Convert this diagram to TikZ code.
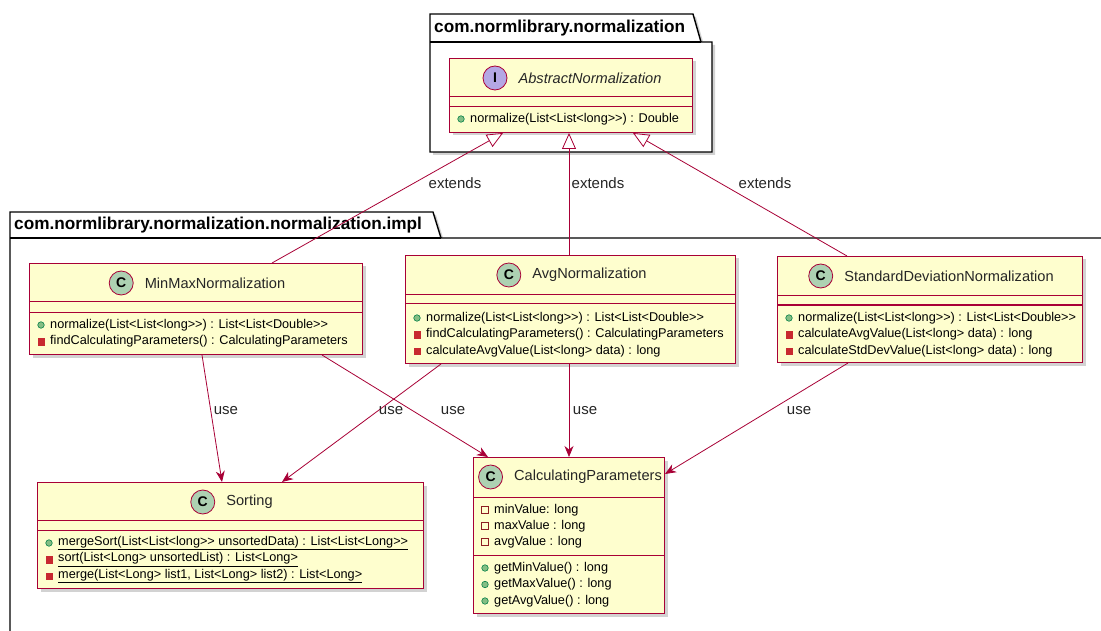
\documentclass[tikz,border=0pt]{standalone}
\usepackage{fontspec}
\newfontfamily\umlfont{Liberation Sans}
\definecolor{umlRed}{HTML}{A80036}
\definecolor{umlCream}{HTML}{FEFECE}
\definecolor{umlMint}{HTML}{ADD1B2}
\definecolor{umlLilac}{HTML}{B4A7E5}
\definecolor{pubFill}{HTML}{84BE84}
\definecolor{pubLine}{HTML}{038048}
\definecolor{privFill}{HTML}{C82930}
\usetikzlibrary{arrows.meta, positioning, shadows}

\tikzset{
  pkgbox/.style={draw=black, fill=white, line width=1.4pt, line join=miter,
    drop shadow={shadow xshift=3pt, shadow yshift=-3pt, opacity=0.35}},
  pkgtitle/.style={font=\umlfont\fontsize{17.2}{20}\selectfont\bfseries, anchor=west, inner sep=0pt},
  classbox/.style={draw=umlRed, fill=umlCream, line width=1pt, anchor=north west, inner sep=0pt,
    drop shadow={shadow xshift=3pt, shadow yshift=-3pt, opacity=0.35}},
  sepline/.style={draw=umlRed, line width=1pt},
  clsname/.style={font=\umlfont\fontsize{14.6}{17}\selectfont, text=black!85, inner sep=0pt},
  clsicon/.style={circle, draw=umlRed, line width=0.8pt, minimum size=24pt, inner sep=0pt,
    font=\umlfont\fontsize{14}{14}\selectfont\bfseries},
  member/.style={font=\umlfont\fontsize{12.7}{15}\selectfont, anchor=west, inner sep=0pt},
  pubm/.style={circle, fill=pubFill, draw=pubLine, line width=0.6pt, minimum size=6.5pt, inner sep=0pt},
  privm/.style={rectangle, fill=privFill, draw=privFill, minimum size=6.5pt, inner sep=0pt},
  privf/.style={rectangle, fill=umlCream, draw=privFill!70!black, line width=0.6pt, minimum size=7pt, inner sep=0pt},
  extline/.style={draw=umlRed, line width=0.8pt,
    -{Triangle[fill=white, length=16pt, width=14pt, line width=0.8pt]}},
  useline/.style={draw=umlRed, line width=0.8pt,
    -{Stealth[length=11pt, width=9pt, inset=3.5pt]}},
  lbl/.style={font=\umlfont\fontsize{15}{17}\selectfont, text=black!85, inner sep=0pt}
}

\begin{document}
\begin{tikzpicture}[x=1pt, y=-1pt]
  \clip (0,0) rectangle (1101,631);
  \fill[white] (0,0) rectangle (1101,631);

  % the two packages
  \draw[pkgbox] (430,42) -- (430,14) -- (693,14) -- (701,42) -- (712,42) -- (712,152) -- (430,152) -- cycle;
  \draw[line width=1.4pt] (430,42) -- (701,42);
  \node[pkgtitle] (pkgnorm) at (434,28) {com.normlibrary.normalization};
  \draw[pkgbox] (10,238) -- (10,212) -- (433,212) -- (441,238) -- (1130,238) -- (1130,660) -- (10,660) -- cycle;
  \draw[line width=1.4pt] (10,238) -- (441,238);
  \node[pkgtitle] (pkgimpl) at (14,225) {com.normlibrary.normalization.normalization.impl};

  % class boxes: name/x/y/width/height/header/empty
  \foreach \n/\x/\y/\w/\h/\a/\b in {absnorm/449/58/243/74/39/49, minmax/29/263/333/91/39/49,
      avgnorm/405/255/330/108/40/49, stddev/777/256/305/106/40/49,
      sorting/37/482/386/106/38/48, calcparams/473/457/191/156/40/98}{
    \node[classbox, minimum width=\w pt, minimum height=\h pt] (\n) at (\x,\y) {};
    \draw[sepline] ([yshift=-\a pt]\n.north west) -- ([yshift=-\a pt]\n.north east);
    \draw[sepline] ([yshift=-\b pt]\n.north west) -- ([yshift=-\b pt]\n.north east);}

  \foreach \n/\c/\f/\t in {absnorm/I/umlLilac/{\itshape AbstractNormalization},
      minmax/C/umlMint/MinMaxNormalization, avgnorm/C/umlMint/AvgNormalization,
      stddev/C/umlMint/StandardDeviationNormalization, sorting/C/umlMint/Sorting,
      calcparams/C/umlMint/CalculatingParameters}{
    \node[clsname] (\n-t) at ([xshift=19pt, yshift=-20pt]\n.north) {\t};
    \node[clsicon, fill=\f, left=11pt of \n-t] (\n-c) {\c};}

  % members: class/offset from top/icon/text
  \foreach \n/\s/\k/\t [count=\i] in {
      absnorm/61/pubm/{normalize(List<List<long>>) : Double},
      minmax/62/pubm/{normalize(List<List<long>>) : List<List<Double>>},
      minmax/78.5/privm/{findCalculatingParameters() : CalculatingParameters},
      avgnorm/63/pubm/{normalize(List<List<long>>) : List<List<Double>>},
      avgnorm/79.5/privm/{findCalculatingParameters() : CalculatingParameters},
      avgnorm/96/privm/{calculateAvgValue(List<long> data) : long},
      stddev/62/pubm/{normalize(List<List<long>>) : List<List<Double>>},
      stddev/78.5/privm/{calculateAvgValue(List<long> data) : long},
      stddev/95/privm/{calculateStdDevValue(List<long> data) : long},
      sorting/61/pubm/{\underline{mergeSort(List<List<long>> unsortedData) : List<List<Long>>}},
      sorting/77.5/privm/{\underline{sort(List<Long> unsortedList) : List<Long>}},
      sorting/94/privm/{\underline{merge(List<Long> list1, List<Long> list2) : List<Long>}},
      calcparams/53/privf/{minValue: long},
      calcparams/69/privf/{maxValue : long},
      calcparams/85/privf/{avgValue : long},
      calcparams/111/pubm/{getMinValue() : long},
      calcparams/127.5/pubm/{getMaxValue() : long},
      calcparams/144/pubm/{getAvgValue() : long}}{
    \node[\k] (mi\i) at ([xshift=12pt, yshift=-\s pt]\n.north west) {};
    \node[member] (mt\i) at ([xshift=21pt, yshift=-\s pt]\n.north west) {\t};}

  % extends
  \draw[extline] ([xshift=243pt]minmax.north west) -- ([xshift=54pt]absnorm.south west);
  \draw[extline] ([xshift=164pt]avgnorm.north west) -- ([xshift=120pt]absnorm.south west);
  \draw[extline] ([xshift=70pt]stddev.north west) -- ([xshift=184pt]absnorm.south west);

  % use
  \draw[useline] ([xshift=173pt]minmax.south west) -- ([xshift=185pt]sorting.north west);
  \draw[useline] ([xshift=293pt]minmax.south west) -- ([xshift=15pt]calcparams.north west);
  \draw[useline] ([xshift=36pt]avgnorm.south west) -- ([xshift=245pt]sorting.north west);
  \draw[useline] ([xshift=164pt]avgnorm.south west) -- ([xshift=96pt]calcparams.north west);
  \draw[useline] ([xshift=71pt]stddev.south west) -- ([yshift=-17pt]calcparams.north east);

  \foreach \n/\x/\y/\t in {ext1/455/183/extends, ext2/598/183/extends, ext3/765/183/extends,
      use1/226/411/use, use2/391/411/use, use3/453/411/use, use4/585/411/use, use5/799/411/use}{
    \node[lbl] (\n) at (\x,\y) {\t};}
\end{tikzpicture}
\end{document}
